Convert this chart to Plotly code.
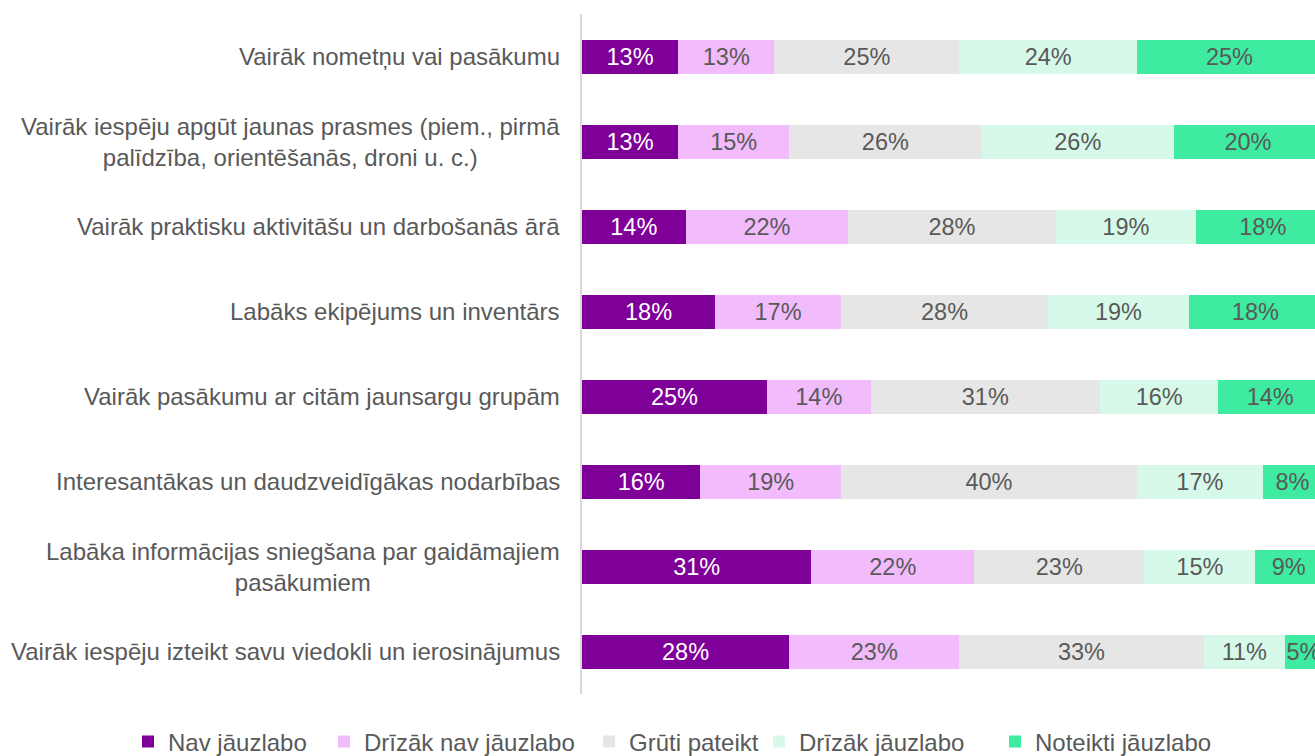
import plotly.graph_objects as go

categories = [
    "Vairāk nometņu vai pasākumu",
    "Vairāk iespēju apgūt jaunas prasmes (piem., pirmā<br>palīdzība, orientēšanās, droni u. c.)",
    "Vairāk praktisku aktivitāšu un darbošanās ārā",
    "Labāks ekipējums un inventārs",
    "Vairāk pasākumu ar citām jaunsargu grupām",
    "Interesantākas un daudzveidīgākas nodarbības",
    "Labāka informācijas sniegšana par gaidāmajiem<br>pasākumiem",
    "Vairāk iespēju izteikt savu viedokli un ierosinājumus",
]
series_names = ["Nav jāuzlabo", "Drīzāk nav jāuzlabo", "Grūti pateikt", "Drīzāk jāuzlabo", "Noteikti jāuzlabo"]
nav = [13, 13, 14, 18, 25, 16, 31, 28]
drizak_nav = [13, 15, 22, 17, 14, 19, 22, 23]
gruti = [25, 26, 28, 28, 31, 40, 23, 33]
drizak = [24, 26, 19, 19, 16, 17, 15, 11]
noteikti = [25, 20, 18, 18, 14, 8, 9, 5]
values = [nav, drizak_nav, gruti, drizak, noteikti]
colors = ["#7F0099", "#F2BBFB", "#E6E6E6", "#D7F9EA", "#3EEBA0"]
text_colors = ["#FFFFFF", "#595959", "#595959", "#595959", "#595959"]
legend_left_px = [128, 324, 589, 759, 995]

FONT = "Liberation Sans, Arial, sans-serif"
W, H = 1315, 756

fig = go.Figure()
legend_ids = ["legend", "legend2", "legend3", "legend4", "legend5"]
for name, vals, col, tcol, lid in zip(series_names, values, colors, text_colors, legend_ids):
    fig.add_trace(go.Bar(
        y=categories, x=vals, name=name, orientation="h",
        marker=dict(color=col, line=dict(width=0)),
        text=[f"{v}%" for v in vals], textposition="inside",
        insidetextanchor="middle", textangle=0, constraintext="none",
        textfont=dict(color=tcol, size=23.5, family=FONT),
        hoverinfo="skip", legend=lid,
    ))

for c in categories:
    fig.add_annotation(
        x=0, xref="paper", y=c, yref="y", text=c, showarrow=False,
        xanchor="right", align="center", xshift=-20,
        font=dict(size=24, color="#595959", family=FONT),
    )

legend_layout = {}
for lid, px in zip(legend_ids, legend_left_px):
    legend_layout[lid] = dict(
        orientation="h", xref="container", yref="container",
        x=px / W, xanchor="left", y=(H - 742) / H, yanchor="middle",
        font=dict(size=24, color="#595959", family=FONT),
        bgcolor="rgba(0,0,0,0)", borderwidth=0,
    )

fig.update_layout(
    barmode="stack", bargap=0.6,
    width=W, height=H,
    margin=dict(l=582, r=0, t=14, b=62),
    plot_bgcolor="white", paper_bgcolor="white",
    font=dict(family=FONT, color="#595959"),
    xaxis=dict(range=[0, 99.05], showgrid=False, showticklabels=False, zeroline=False, fixedrange=True),
    yaxis=dict(autorange="reversed", showticklabels=False, showgrid=False, zeroline=False,
               showline=True, linecolor="#D9D9D9", linewidth=2, ticks=""),
    showlegend=True,
    **legend_layout,
)

fig.write_html("out.html", config={"displayModeBar": False},
               post_script="document.body.style.margin='0';document.body.style.overflow='hidden';")
